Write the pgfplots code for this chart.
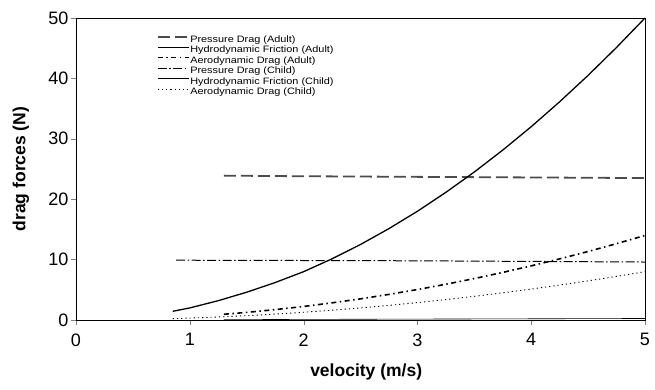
\documentclass[border=0pt]{standalone}
\usepackage{fontspec}
\setmainfont{Liberation Sans}
\newfontfamily\legfont{Liberation Sans}[FakeStretch=1.17]
\newcommand\lf{\legfont\fontsize{9.3}{10}\selectfont}
\usepackage{pgfplots}
\pgfplotsset{compat=1.18}
\begin{document}
\begin{tikzpicture}
\begin{axis}[
  scale only axis,
  width=569pt, height=302pt,
  xmin=0, xmax=5, ymin=0, ymax=50,
  xtick={0,1,2,3,4,5}, ytick={0,10,20,30,40,50},
  tick align=outside, tick pos=left,
  major tick length=5pt,
  /pgf/number format/assume math mode=true,
  ticklabel style={font=\fontsize{18}{20}\selectfont},
  xticklabel style={yshift=-5pt},
  yticklabel style={xshift=1pt},
  xlabel={\textbf{velocity (m/s)}},
  ylabel={\textbf{drag forces (N)}},
  label style={font=\fontsize{17.5}{19}\selectfont},
  xlabel style={at={(axis description cs:0.51,-0.172)}, anchor=center},
  ylabel style={at={(axis description cs:-0.0967,0.5)}, anchor=center},
  axis line style={line width=0.8pt},
  legend style={draw=none, fill=none, at={(0.142,0.944)}, anchor=north west,
    row sep=1.5pt, inner sep=0pt,
    nodes={inner xsep=0.5pt, inner ysep=0pt, text height=7pt, text depth=2pt}},
  legend cell align=left,
  legend image code/.code={\draw[#1] (0pt,3pt) -- (31pt,3pt);},
]
\addplot[black!70, line width=1.8pt, dash pattern=on 12pt off 5pt] coordinates {
(1.3,23.9) (2,23.8) (3,23.7) (4,23.6) (5,23.5)};
\addlegendentry{\lf Pressure Drag (Adult)}
\addplot[black, line width=0.6pt] coordinates {
(1.3,0.05) (2,0.1) (3,0.15) (4,0.2) (5,0.25)};
\addlegendentry{\lf Hydrodynamic Friction (Adult)}
\addplot[black, line width=1.6pt, dash pattern=on 5pt off 3.5pt on 1.5pt off 3.5pt] coordinates {
(1.3,0.95) (1.5,1.26) (1.75,1.72) (2,2.24) (2.25,2.84) (2.5,3.5) (2.75,4.24) (3,5.04) (3.25,5.92) (3.5,6.86) (3.75,7.88) (4,8.96) (4.25,10.12) (4.5,11.34) (4.75,12.64) (5,14.0)};
\addlegendentry{\lf Aerodynamic Drag (Adult)}
\addplot[black, line width=1pt, dash pattern=on 9pt off 2.5pt on 1.5pt off 2.5pt] coordinates {
(0.88,9.9) (2,9.85) (3,9.8) (4,9.7) (5,9.6)};
\addlegendentry{\lf Pressure Drag (Child)}
\addplot[black, line width=1.3pt] coordinates {
(0.85,1.44) (1,2.0) (1.25,3.2) (1.5,4.6) (1.75,6.2) (2,8.0) (2.25,10.13) (2.5,12.5) (2.75,15.13) (3,18.0) (3.25,21.13) (3.5,24.5) (3.75,28.13) (4,32.0) (4.25,36.13) (4.5,40.5) (4.75,45.13) (5,50.0)};
\addlegendentry{\lf Hydrodynamic Friction (Child)}
\addplot[black, line width=0.9pt, dash pattern=on 1.2pt off 3pt] coordinates {
(0.85,0.23) (1,0.32) (1.25,0.5) (1.5,0.72) (1.75,0.98) (2,1.28) (2.25,1.62) (2.5,2.0) (2.75,2.42) (3,2.88) (3.25,3.38) (3.5,3.92) (3.75,4.5) (4,5.12) (4.25,5.78) (4.5,6.48) (4.75,7.22) (5,8.0)};
\addlegendentry{\lf Aerodynamic Drag (Child)}
\end{axis}
\pgfresetboundingbox
\useasboundingbox (current axis.south west) ++(-76pt,-70pt) rectangle ++(655pt,390pt);
\end{tikzpicture}
\end{document}
